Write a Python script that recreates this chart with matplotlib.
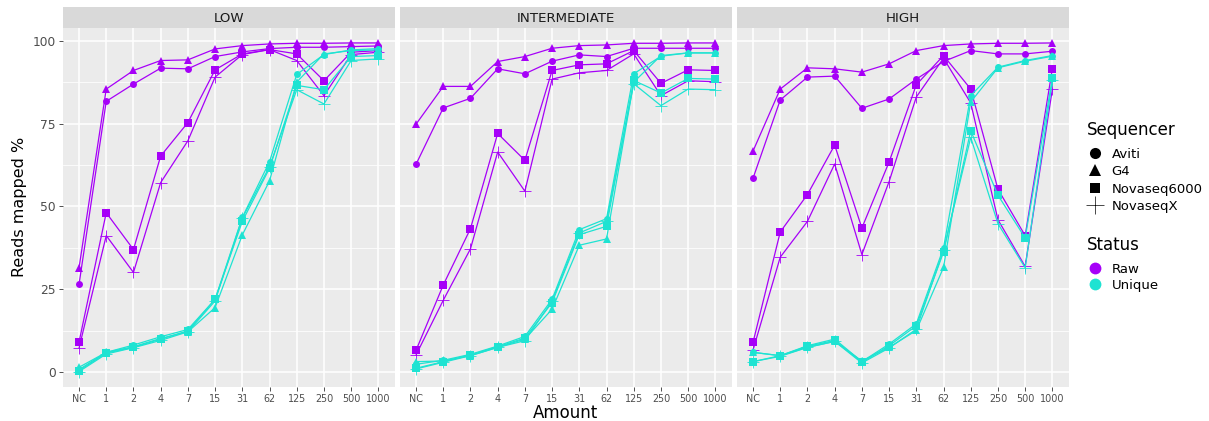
import matplotlib
matplotlib.use("Agg")
import matplotlib.pyplot as plt
from matplotlib.lines import Line2D

amount = ["NC", "1", "2", "4", "7", "15", "31", "62", "125", "250", "500", "1000"]
panels = ["LOW", "INTERMEDIATE", "HIGH"]
sequencers = ["Aviti", "G4", "Novaseq6000", "NovaseqX"]
statuses = ["Raw", "Unique"]

# ---- LOW ----
low_raw_aviti = [26.5, 81.7, 86.9, 91.7, 91.5, 95.2, 96.6, 97.6, 98.0, 98.0, 98.2, 98.4]
low_raw_g4 = [31.5, 85.4, 91.0, 94.0, 94.2, 97.5, 98.5, 99.0, 99.2, 99.2, 99.3, 99.3]
low_raw_nova6000 = [9.1, 48.1, 37.0, 65.2, 75.3, 91.2, 96.0, 97.3, 96.0, 87.9, 96.5, 97.0]
low_raw_novaX = [7.3, 41.2, 30.1, 57.2, 69.8, 89.0, 95.8, 97.3, 94.0, 83.4, 95.8, 96.5]
low_uniq_aviti = [0.8, 6.0, 8.2, 10.7, 12.9, 22.0, 46.7, 63.5, 89.8, 95.8, 97.2, 97.6]
low_uniq_g4 = [1.5, 6.0, 7.7, 10.2, 12.2, 19.5, 41.4, 57.7, 87.5, 96.0, 97.0, 97.2]
low_uniq_nova6000 = [0.5, 5.8, 7.5, 10.0, 12.5, 22.0, 45.5, 61.5, 86.5, 85.2, 95.2, 95.5]
low_uniq_novaX = [0.2, 5.5, 7.4, 9.6, 12.2, 21.5, 46.5, 62.0, 85.2, 80.9, 94.0, 94.5]

# ---- INTERMEDIATE ----
int_raw_aviti = [62.7, 79.7, 82.6, 91.5, 90.0, 93.8, 95.7, 95.2, 97.7, 97.7, 97.7, 97.7]
int_raw_g4 = [74.8, 86.2, 86.2, 93.7, 95.2, 97.7, 98.5, 98.7, 99.2, 99.2, 99.3, 99.3]
int_raw_nova6000 = [6.6, 26.3, 43.3, 72.0, 63.9, 91.0, 92.7, 93.0, 97.0, 87.1, 91.2, 91.0]
int_raw_novaX = [5.2, 21.7, 37.2, 66.4, 54.6, 88.4, 90.3, 91.0, 96.0, 83.4, 87.9, 87.6]
int_uniq_aviti = [2.4, 3.6, 5.4, 7.9, 10.8, 22.0, 43.0, 46.3, 90.0, 95.3, 96.3, 96.3]
int_uniq_g4 = [3.2, 3.4, 5.0, 7.5, 10.0, 19.0, 38.3, 40.2, 87.5, 95.5, 96.3, 96.3]
int_uniq_nova6000 = [1.2, 3.2, 5.2, 7.7, 10.3, 21.0, 41.5, 44.0, 88.0, 84.2, 88.6, 88.4]
int_uniq_novaX = [1.0, 3.0, 5.0, 7.5, 9.5, 21.5, 42.0, 45.5, 87.0, 80.4, 85.4, 85.2]

# ---- HIGH ----
high_raw_aviti = [58.5, 82.1, 89.0, 89.3, 79.6, 82.4, 88.4, 93.7, 97.0, 96.0, 96.0, 96.8]
high_raw_g4 = [66.7, 85.4, 91.8, 91.5, 90.5, 93.0, 97.0, 98.5, 99.0, 99.2, 99.2, 99.3]
high_raw_nova6000 = [9.0, 42.3, 53.6, 68.5, 43.5, 63.4, 86.7, 95.5, 85.4, 55.2, 41.2, 91.5]
high_raw_novaX = [6.7, 34.7, 45.5, 62.8, 35.5, 57.5, 83.0, 94.7, 81.2, 46.0, 31.9, 85.4]
high_uniq_aviti = [6.0, 5.0, 8.0, 10.0, 3.2, 8.5, 14.6, 37.5, 83.4, 92.0, 94.0, 95.5]
high_uniq_g4 = [6.0, 5.0, 7.5, 9.3, 3.4, 7.5, 12.6, 31.6, 81.5, 91.8, 93.8, 95.3]
high_uniq_nova6000 = [3.2, 5.0, 7.8, 9.6, 3.0, 8.0, 14.0, 36.2, 72.8, 53.4, 40.5, 88.7]
high_uniq_novaX = [3.2, 4.8, 7.5, 9.3, 2.8, 7.3, 13.0, 36.8, 70.8, 44.8, 31.5, 88.0]

data = {
    "LOW": {"Raw": [low_raw_aviti, low_raw_g4, low_raw_nova6000, low_raw_novaX],
            "Unique": [low_uniq_aviti, low_uniq_g4, low_uniq_nova6000, low_uniq_novaX]},
    "INTERMEDIATE": {"Raw": [int_raw_aviti, int_raw_g4, int_raw_nova6000, int_raw_novaX],
                     "Unique": [int_uniq_aviti, int_uniq_g4, int_uniq_nova6000, int_uniq_novaX]},
    "HIGH": {"Raw": [high_raw_aviti, high_raw_g4, high_raw_nova6000, high_raw_novaX],
             "Unique": [high_uniq_aviti, high_uniq_g4, high_uniq_nova6000, high_uniq_novaX]},
}

status_colors = {"Raw": "#A600F8", "Unique": "#1EE3D2"}
seq_markers = {"Aviti": ("o", 5.0, 0.0), "G4": ("^", 5.7, 0.0),
               "Novaseq6000": ("s", 5.2, 0.0), "NovaseqX": ("+", 9.0, 0.6)}

W, H = 1209, 421
fig = plt.figure(figsize=(W / 100, H / 100), dpi=100)
lefts = [62.7, 399.7, 736.7]
pw = 332.0
ptop, pbot = 27.7, 387.0
stop = 7.3

x = list(range(len(amount)))
for i, p in enumerate(panels):
    ax = fig.add_axes([lefts[i] / W, 1 - pbot / H, pw / W, (pbot - ptop) / H])
    ax.set_facecolor("#EBEBEB")
    for s in ax.spines.values():
        s.set_visible(False)
    ax.set_xlim(-0.6, 11.6)
    ax.set_ylim(-4.45, 103.9)
    ax.set_yticks([0, 25, 50, 75, 100])
    ax.set_yticks([12.5, 37.5, 62.5, 87.5], minor=True)
    ax.set_xticks(x)
    ax.set_xticklabels(amount)
    ax.grid(True, which="major", color="white", linewidth=1.1)
    ax.grid(True, which="minor", axis="y", color="white", linewidth=0.55)
    ax.set_axisbelow(True)
    ax.tick_params(axis="x", which="major", length=2.8, width=0.6, color="#333333",
                   labelsize=6.9, labelcolor="#4D4D4D", pad=2.0)
    ax.tick_params(axis="y", which="minor", length=0)
    if i == 0:
        ax.tick_params(axis="y", which="major", length=2.8, width=0.6, color="#333333",
                       labelsize=8.8, labelcolor="#4D4D4D", pad=2.0)
        ax.set_ylabel("Reads mapped %", fontsize=11.5, color="black", labelpad=4)
    else:
        ax.tick_params(axis="y", which="major", length=0, labelleft=False)
    if i == 1:
        ax.set_xlabel("Amount", fontsize=12, color="black", labelpad=0)
    for st in statuses:
        for k, sq in enumerate(sequencers):
            m, ms, mew = seq_markers[sq]
            ax.plot(x, data[p][st][k], color=status_colors[st], linewidth=0.9,
                    marker=m, markersize=ms, markeredgewidth=mew,
                    markerfacecolor=status_colors[st], markeredgecolor=status_colors[st])
    # strip
    sax = fig.add_axes([lefts[i] / W, 1 - ptop / H, pw / W, (ptop - stop) / H])
    sax.set_facecolor("#D9D9D9")
    sax.set_xticks([]); sax.set_yticks([])
    for s in sax.spines.values():
        s.set_visible(False)
    sax.text(0.5, 0.47, p, transform=sax.transAxes, ha="center", va="center",
             fontsize=9.6, color="#1A1A1A")

# legends
fig.text(1086.7 / W, 1 - 130 / H, "Sequencer", fontsize=12, ha="left", va="center", color="black")
fig.text(1086.7 / W, 1 - 245 / H, "Status", fontsize=12, ha="left", va="center", color="black")
seq_handles = [Line2D([], [], linestyle="none", marker="o", markersize=8, color="black", markeredgewidth=0),
               Line2D([], [], linestyle="none", marker="^", markersize=8.5, color="black", markeredgewidth=0),
               Line2D([], [], linestyle="none", marker="s", markersize=7.5, color="black", markeredgewidth=0),
               Line2D([], [], linestyle="none", marker="+", markersize=12.5, color="black", markeredgewidth=0.5)]
fig.legend(seq_handles, sequencers, loc="center left",
           bbox_to_anchor=(1086.4 / W, 1 - 180.3 / H), frameon=False, fontsize=9.5,
           handlelength=1.3, handletextpad=0.6,
           labelspacing=0.34, borderaxespad=0, borderpad=0)
st_handles = [Line2D([], [], linestyle="none", marker="o", markersize=8.5, color=status_colors[s], markeredgewidth=0)
              for s in statuses]
fig.legend(st_handles, statuses, loc="center left",
           bbox_to_anchor=(1086.4 / W, 1 - 277.2 / H), frameon=False, fontsize=9.5,
           handlelength=1.3, handletextpad=0.6,
           labelspacing=0.25, borderaxespad=0, borderpad=0)

fig.savefig("out.png", dpi=100, facecolor="white")
